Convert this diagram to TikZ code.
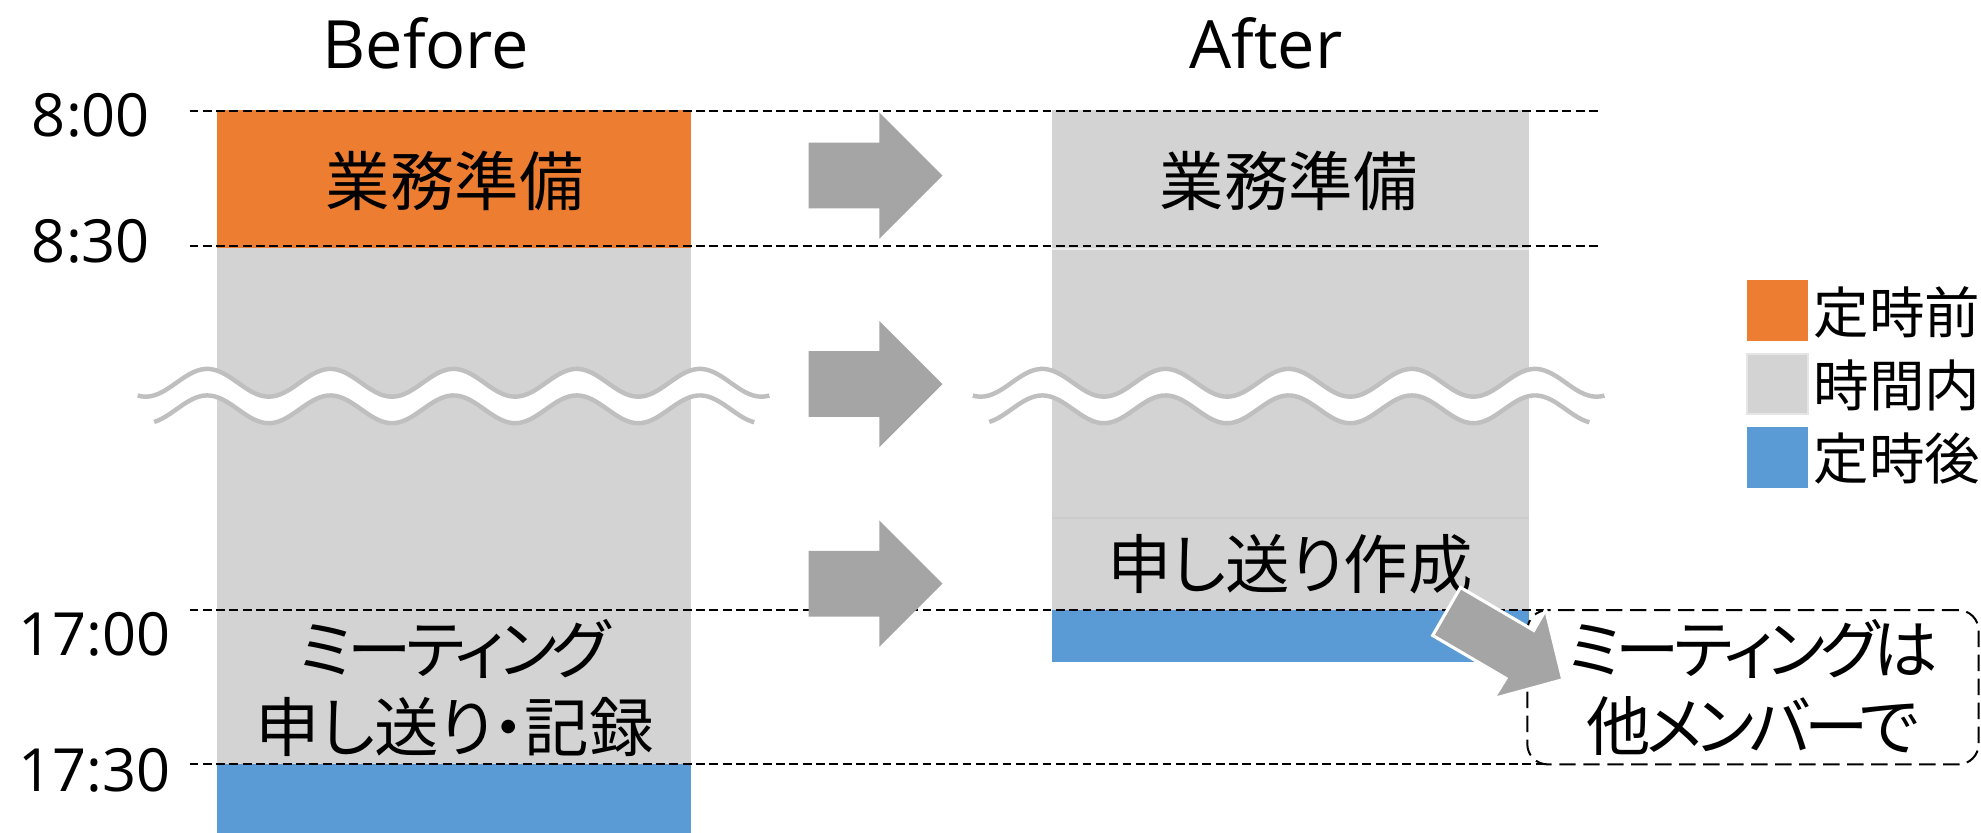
\documentclass[tikz,border=0pt]{standalone}
\usepackage{fontspec}
\setmainfont{Open Sans}
\newfontfamily\jp{Noto Sans CJK JP}[RawFeature={+palt}]
\newcommand{\tightkana}[1]{{\addfontfeature{LetterSpace=-8}#1}}
\definecolor{barorange}{HTML}{ED7D31}
\definecolor{bargray}{HTML}{D3D3D3}
\definecolor{barblue}{HTML}{5B9BD5}
\definecolor{arrowgray}{HTML}{A5A5A5}
\definecolor{wavegray}{HTML}{BFBFBF}
\begin{document}
\begin{tikzpicture}[x=0.01cm,y=-0.01cm,
  titletext/.style={font=\fontsize{15}{18}\selectfont, inner sep=0, anchor=base},
  timelbl/.style={font=\fontsize{13.4}{16}\selectfont, inner sep=0},
  jptext/.style={font=\jp\fontsize{14.5}{17.4}\selectfont, inner sep=0, align=center},
  legtext/.style={font=\jp\fontsize{12.5}{15}\selectfont, inner sep=0, anchor=west},
  guide/.style={black, dash pattern=on 2pt off 1pt, line width=0.45pt},
  blockarrow/.style={fill=arrowgray},
  wavestroke/.style={wavegray, line width=1pt},
  wavebreak/.pic={
    \fill[white] plot[domain=109:609, samples=160] (\x,{303-11*cos((\x-164)*3.6923)})
      -- plot[domain=597:122, samples=160] (\x,{324-11*cos((\x-164)*3.6923)}) -- cycle;
    \draw[wavestroke] plot[domain=109:609, samples=160] (\x,{303-11*cos((\x-164)*3.6923)});
    \draw[wavestroke] plot[domain=122:597, samples=160] (\x,{324-11*cos((\x-164)*3.6923)});
  }]
\useasboundingbox (0,0) rectangle (1568,659);

% Before bar
\fill[barorange] (172,87) rectangle (547,196);
\fill[bargray] (172,196) rectangle (547,605);
\fill[barblue] (172,605) rectangle (547,660);

% After bar
\fill[bargray] (833,87) rectangle (1210,483);
\draw[white!92!black, line width=0.4pt] (833,197) -- (1210,197);
\draw[black!20, line width=0.4pt] (833,410) -- (1210,410);
\fill[barblue] (833,483) rectangle (1210,524);

% wave breaks
\pic at (0,0) {wavebreak};
\pic at (661,0) {wavebreak};

% guide lines
\draw[guide] (150,88) -- (1265,88);
\draw[guide] (150,195) -- (1265,195);
\draw[guide] (150,483) -- (1225,483);
\draw[guide] (150,605) -- (1225,605);

% titles
\node[titletext] (before) at (337,54) {Before};
\node[titletext] (after) at (1002,54) {After};

% time labels
\node[timelbl] (t800) at (72,91.5) {8:00};
\node[timelbl] (t830) at (72,191) {8:30};
\node[timelbl] (t1700) at (75,502) {17:00};
\node[timelbl] (t1730) at (75,610) {17:30};

% bar texts
\node[jptext] (prepB) at (360,143.5) {業務準備};
\node[jptext] (meetB) at (360,544.5) {\tightkana{ミーティング}\\申し送り・記録};
\node[jptext] (prepA) at (1020,143) {業務準備};
\node[jptext] (handA) at (1021,447) {申し送り作成};

% horizontal arrows
\fill[blockarrow] (640,113) -- (696,113) -- (696,89) -- (746,139) -- (696,189) -- (696,165) -- (640,165) -- cycle;
\fill[blockarrow] (640,278) -- (696,278) -- (696,254) -- (746,304) -- (696,354) -- (696,330) -- (640,330) -- cycle;
\fill[blockarrow] (640,436) -- (696,436) -- (696,412) -- (746,462) -- (696,512) -- (696,488) -- (640,488) -- cycle;

% dashed note box
\node[jptext, draw=black, dash pattern=on 3.7pt off 1.7pt, line width=0.45pt,
      rounded corners=0.16cm, minimum width=3.57cm, minimum height=1.22cm]
      (note) at (1387.5,544) {\tightkana{ミーティングは}\\\tightkana{他メンバーで}};

% diagonal arrow
\filldraw[blockarrow, draw=white, line width=0.7pt, line join=miter]
  (1156,465) -- (1214,499) -- (1223.5,482.6) -- (1237,538) -- (1182,553) -- (1192,537) -- (1134,503) -- cycle;

% legend
\fill[barorange] (1383,222) rectangle (1431,270);
\filldraw[fill=bargray, draw=white!90!black, line width=0.4pt] (1383,280) rectangle (1431,328);
\fill[barblue] (1383,338) rectangle (1431,386);
\node[legtext] (lg1) at (1435,247) {定時前};
\node[legtext] (lg2) at (1435,305) {時間内};
\node[legtext] (lg3) at (1435,363) {定時後};
\end{tikzpicture}
\end{document}
